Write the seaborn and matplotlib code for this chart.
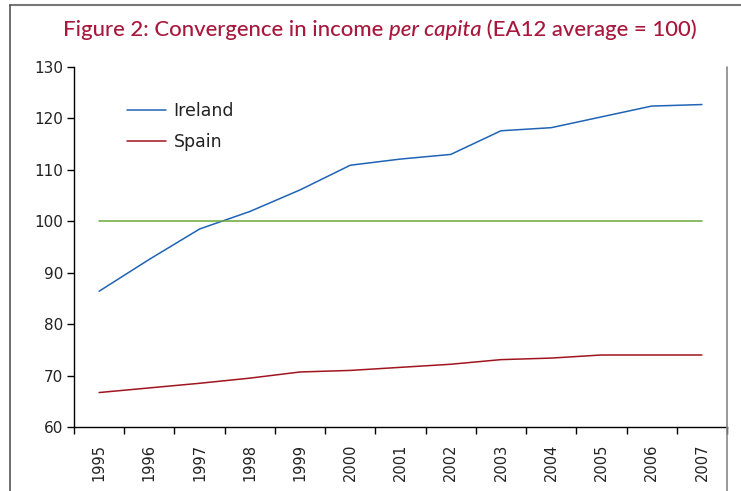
import numpy as np
import pandas as pd
import matplotlib
matplotlib.use("Agg")
import matplotlib.pyplot as plt
import seaborn as sns
from matplotlib.lines import Line2D

years = [1995, 1996, 1997, 1998, 1999, 2000, 2001, 2002, 2003, 2004, 2005, 2006, 2007]
ireland = [86.4, 92.6, 98.5, 101.9, 106.1, 110.9, 112.1, 113.0, 117.6, 118.2, 120.3, 122.4, 122.7]
spain = [66.7, 67.6, 68.5, 69.5, 70.7, 71.0, 71.6, 72.2, 73.1, 73.4, 74.0, 74.0, 74.0]
ea12 = [100] * len(years)
y_ticks = [60, 70, 80, 90, 100, 110, 120, 130]

sns.set_theme(style="white")
plt.rcParams['font.family'] = ['DejaVu Sans']

df = pd.DataFrame({
    "pos": list(range(len(years))) * 2,
    "value": ireland + spain,
    "country": ["Ireland"] * len(years) + ["Spain"] * len(years),
})

fig = plt.figure(figsize=(7.41, 4.91), dpi=100)
ax = fig.add_axes([74 / 741, 1 - 427 / 491, (727 - 74) / 741, (427 - 67) / 491])

sns.lineplot(data=df, x="pos", y="value", hue="country",
             palette={"Ireland": "#1f63b5", "Spain": "#a1141f"},
             linewidth=1.1, ax=ax, legend=True)
sns.lineplot(x=list(range(len(years))), y=ea12, color="#6aa83a", linewidth=1.1, ax=ax)

ax.set_xlim(-0.5, len(years) - 0.5)
ax.set_ylim(60, 130)
ax.set_yticks(y_ticks)
ax.set_yticklabels([str(v) for v in y_ticks], fontsize=11, color="#222222")
ax.set_xticks(np.arange(-0.5, len(years)), labels=[])
ax.set_xticks(range(len(years)), labels=[str(y) for y in years], minor=True)
ax.tick_params(axis="x", which="major", length=5, width=1, direction="out", bottom=True, color="black")
ax.tick_params(axis="x", which="minor", length=0, pad=12, labelsize=10.5, labelrotation=90, labelcolor="#222222")
ax.tick_params(axis="y", length=5, width=1, direction="out", left=True, pad=3, color="black")
ax.set_xlabel("")
ax.set_ylabel("")
for s in ["top", "right"]:
    ax.spines[s].set_visible(False)
for s in ["left", "bottom"]:
    ax.spines[s].set_color("black")
    ax.spines[s].set_linewidth(1)

handles, labels = ax.get_legend_handles_labels()
leg = ax.legend(handles[:2], labels[:2], loc="upper left", bbox_to_anchor=(0.057, 0.947),
                frameon=False, fontsize=12.5, handlelength=2.25, handletextpad=0.45,
                labelspacing=0.75)
for t in leg.get_texts():
    t.set_color("#222222")

# frame lines
fig.add_artist(Line2D([10 / 741, 1], [1 - 5 / 491] * 2, color="#777777", linewidth=1.5, transform=fig.transFigure))
fig.add_artist(Line2D([10 / 741] * 2, [0, 1 - 5 / 491], color="#555555", linewidth=1.2, transform=fig.transFigure))
fig.add_artist(Line2D([727 / 741] * 2, [0, 1 - 67 / 491], color="#888888", linewidth=1.2, transform=fig.transFigure))

# title with italic part, fitted to the reference width
title_color = "#a8173c"
parts = [("Figure 2: Convergence in income ", "normal"), ("per capita", "italic"), (" (EA12 average = 100)", "normal")]
fam = ["Lato", "DejaVu Sans"]
target_w = 634
fig.canvas.draw()
renderer = fig.canvas.get_renderer()

def measure(fs):
    ws = []
    ts = []
    for s, st in parts:
        t = fig.text(0, 1 - 30 / 491, s, fontsize=fs, style=st, color=title_color,
                     family=fam, va="center", ha="left", weight="medium")
        ws.append(t.get_window_extent(renderer=renderer).width)
        ts.append(t)
    return ts, ws

ts, ws = measure(17)
fs = 17 * target_w / sum(ws)
for t in ts:
    t.remove()
ts, ws = measure(fs)
x = (380 - sum(ws) / 2) / 741
for t, w in zip(ts, ws):
    t.set_x(x)
    x += w / 741

fig.savefig("out.png", dpi=100, facecolor="white")
